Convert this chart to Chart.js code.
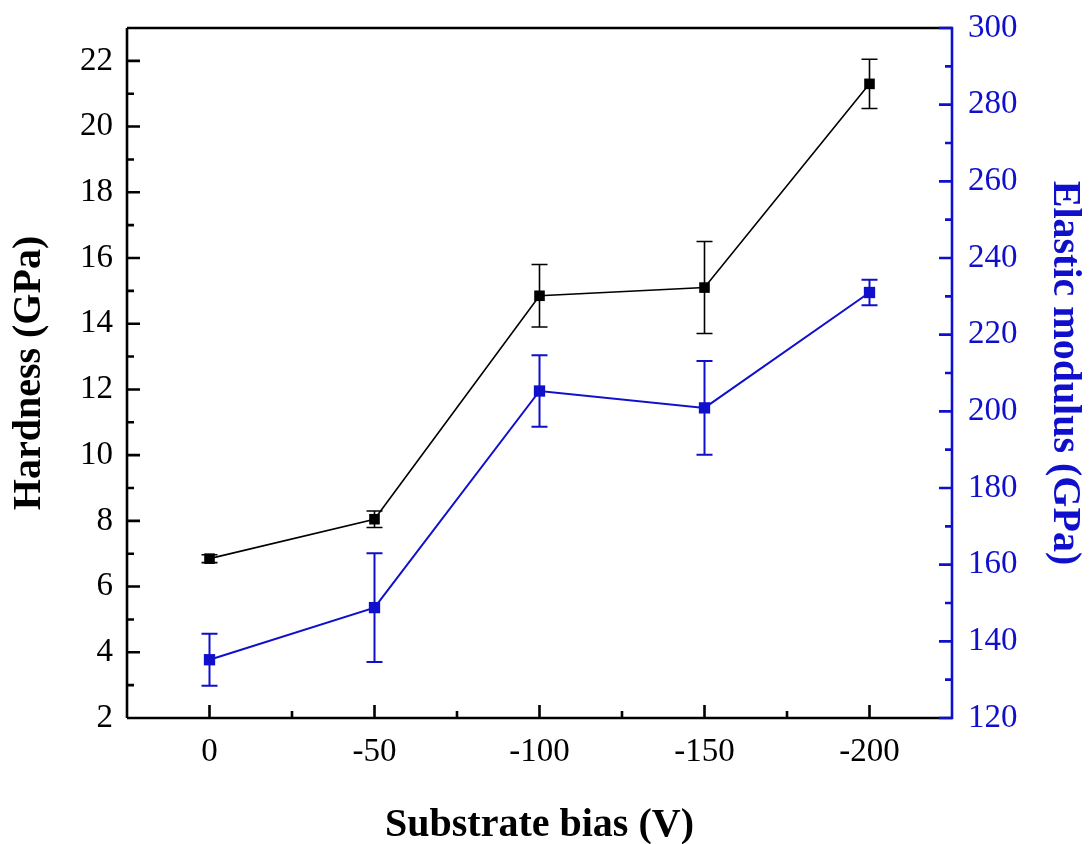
<!DOCTYPE html>
<html>
<head>
<meta charset="utf-8">
<script src="https://cdn.jsdelivr.net/npm/chart.js@4.4.1/dist/chart.umd.min.js"></script>
<style>
    html, body { margin: 0; padding: 0; background: #fff; }
    #wrap { width: 1089px; height: 844px; }
</style>
</head>
<body>
<div id="wrap"><canvas id="chart" width="1089" height="844"></canvas></div>
<script>
// Dados
const biasLabels = ['0', '-50', '-100', '-150', '-200'];
const hardness = [6.85, 8.05, 14.85, 15.1, 21.3];
const hardnessErr = [0.12, 0.25, 0.95, 1.4, 0.75];
const modulus = [135.2, 148.8, 205.3, 200.9, 231.0];
const modulusErr = [6.8, 14.2, 9.3, 12.2, 3.3];
const hardnessTicks = [2, 4, 6, 8, 10, 12, 14, 16, 18, 20, 22];
const modulusTicks = [120, 140, 160, 180, 200, 220, 240, 260, 280, 300];

const BLACK = '#000000';
const BLUE = '#1010cc';
const FONT = "'Liberation Serif', 'Times New Roman', serif";

function midpoints(arr) {
    const out = [];
    for (let i = 0; i < arr.length - 1; i++) out.push((arr[i] + arr[i + 1]) / 2);
    return out;
}

// Barras de erro desenhadas pelas escalas do gráfico
const errorBars = {
    id: 'errorBars',
    beforeDatasetsDraw(chart) {
        const ctx = chart.ctx;
        chart.data.datasets.forEach(ds => {
            if (!ds.errors) return;
            const yScale = chart.scales[ds.yAxisID];
            const xScale = chart.scales.x;
            ctx.save();
            ctx.strokeStyle = ds.borderColor;
            ctx.lineWidth = ds.errorWidth;
            ds.data.forEach((p, i) => {
                const x = xScale.getPixelForValue(p.x);
                const yTop = yScale.getPixelForValue(p.y + ds.errors[i]);
                const yBot = yScale.getPixelForValue(p.y - ds.errors[i]);
                ctx.beginPath();
                ctx.moveTo(x, yTop); ctx.lineTo(x, yBot);
                ctx.moveTo(x - 8, yTop); ctx.lineTo(x + 8, yTop);
                ctx.moveTo(x - 8, yBot); ctx.lineTo(x + 8, yBot);
                ctx.stroke();
            });
            ctx.restore();
        });
    }
};

// Moldura e marcas para dentro (estilo Origin)
const frameTicks = {
    id: 'frameTicks',
    afterDraw(chart) {
        const { ctx, chartArea: a, scales } = chart;
        const seg = (x1, y1, x2, y2) => { ctx.moveTo(x1, y1); ctx.lineTo(x2, y2); };
        ctx.save();
        ctx.lineWidth = 2.6;
        ctx.lineCap = 'butt';

        ctx.strokeStyle = BLACK;
        ctx.beginPath();
        seg(a.right, a.top, a.left, a.top);
        seg(a.left, a.top, a.left, a.bottom);
        seg(a.left, a.bottom, a.right, a.bottom);
        hardnessTicks.forEach(v => { const y = scales.y.getPixelForValue(v); seg(a.left, y, a.left + 13, y); });
        midpoints(hardnessTicks).forEach(v => { const y = scales.y.getPixelForValue(v); seg(a.left, y, a.left + 7, y); });
        biasLabels.forEach((_, i) => { const x = scales.x.getPixelForValue(i); seg(x, a.bottom, x, a.bottom - 13); });
        midpoints(biasLabels.map((_, i) => i)).forEach(v => { const x = scales.x.getPixelForValue(v); seg(x, a.bottom, x, a.bottom - 7); });
        ctx.stroke();

        ctx.strokeStyle = BLUE;
        ctx.beginPath();
        seg(a.right, a.top - 1.3, a.right, a.bottom + 1.3);
        modulusTicks.forEach(v => { const y = scales.y2.getPixelForValue(v); seg(a.right, y, a.right - 13, y); });
        midpoints(modulusTicks).forEach(v => { const y = scales.y2.getPixelForValue(v); seg(a.right, y, a.right - 7, y); });
        ctx.stroke();
        ctx.restore();
    }
};

// Tamanho fixo dos eixos, sem folga extra para os rótulos
function fixWidth(w) {
    return s => { s.width = w; s.paddingTop = 0; s.paddingBottom = 0; };
}

const ctx = document.getElementById('chart').getContext('2d');

new Chart(ctx, {
    type: 'line',
    data: {
        datasets: [{
            label: 'Hardness',
            data: hardness.map((v, i) => ({ x: i, y: v })),
            errors: hardnessErr,
            errorWidth: 1.6,
            yAxisID: 'y',
            borderColor: BLACK,
            backgroundColor: BLACK,
            borderWidth: 1.6,
            pointStyle: 'rect',
            pointRadius: 7.5,
            pointBorderWidth: 0,
            tension: 0
        }, {
            label: 'Elastic modulus',
            data: modulus.map((v, i) => ({ x: i, y: v })),
            errors: modulusErr,
            errorWidth: 2,
            yAxisID: 'y2',
            borderColor: BLUE,
            backgroundColor: BLUE,
            borderWidth: 2,
            pointStyle: 'rect',
            pointRadius: 8,
            pointBorderWidth: 0,
            tension: 0
        }]
    },
    options: {
        responsive: false,
        animation: false,
        layout: { padding: { top: 28 } },
        plugins: { legend: { display: false }, tooltip: { enabled: false } },
        scales: {
            x: {
                type: 'linear',
                min: -0.5,
                max: 4.5,
                afterBuildTicks: s => { s.ticks = biasLabels.map((_, i) => ({ value: i })); },
                afterFit: s => { s.height = 126; s.paddingLeft = 0; s.paddingRight = 0; },
                grid: { display: false, drawTicks: false },
                border: { display: false },
                ticks: {
                    padding: 15,
                    color: BLACK,
                    font: { family: FONT, size: 33 },
                    callback: v => biasLabels[v]
                },
                title: {
                    display: true,
                    text: 'Substrate bias (V)',
                    color: BLACK,
                    font: { family: FONT, size: 40, weight: 'bold', lineHeight: 1 },
                    padding: { top: 0, bottom: -2 }
                }
            },
            y: {
                position: 'left',
                min: 2,
                max: 23,
                afterBuildTicks: s => { s.ticks = hardnessTicks.map(v => ({ value: v })); },
                afterFit: fixWidth(127),
                grid: { display: false, drawTicks: false },
                border: { display: false },
                ticks: { padding: 14, color: BLACK, font: { family: FONT, size: 33 } },
                title: {
                    display: true,
                    text: 'Hardness (GPa)',
                    color: BLACK,
                    font: { family: FONT, size: 40, weight: 'bold', lineHeight: 1 },
                    padding: { top: 10, bottom: 0 }
                }
            },
            y2: {
                position: 'right',
                min: 120,
                max: 300,
                afterBuildTicks: s => { s.ticks = modulusTicks.map(v => ({ value: v })); },
                afterFit: fixWidth(137),
                grid: { display: false, drawTicks: false },
                border: { display: false },
                ticks: { padding: 16, color: BLUE, font: { family: FONT, size: 33 } },
                title: {
                    display: true,
                    text: 'Elastic modulus (GPa)',
                    color: BLUE,
                    font: { family: FONT, size: 40, weight: 'bold', lineHeight: 1 },
                    padding: { top: 5, bottom: 0 }
                }
            }
        }
    },
    plugins: [errorBars, frameTicks]
});
</script>
</body>
</html>
